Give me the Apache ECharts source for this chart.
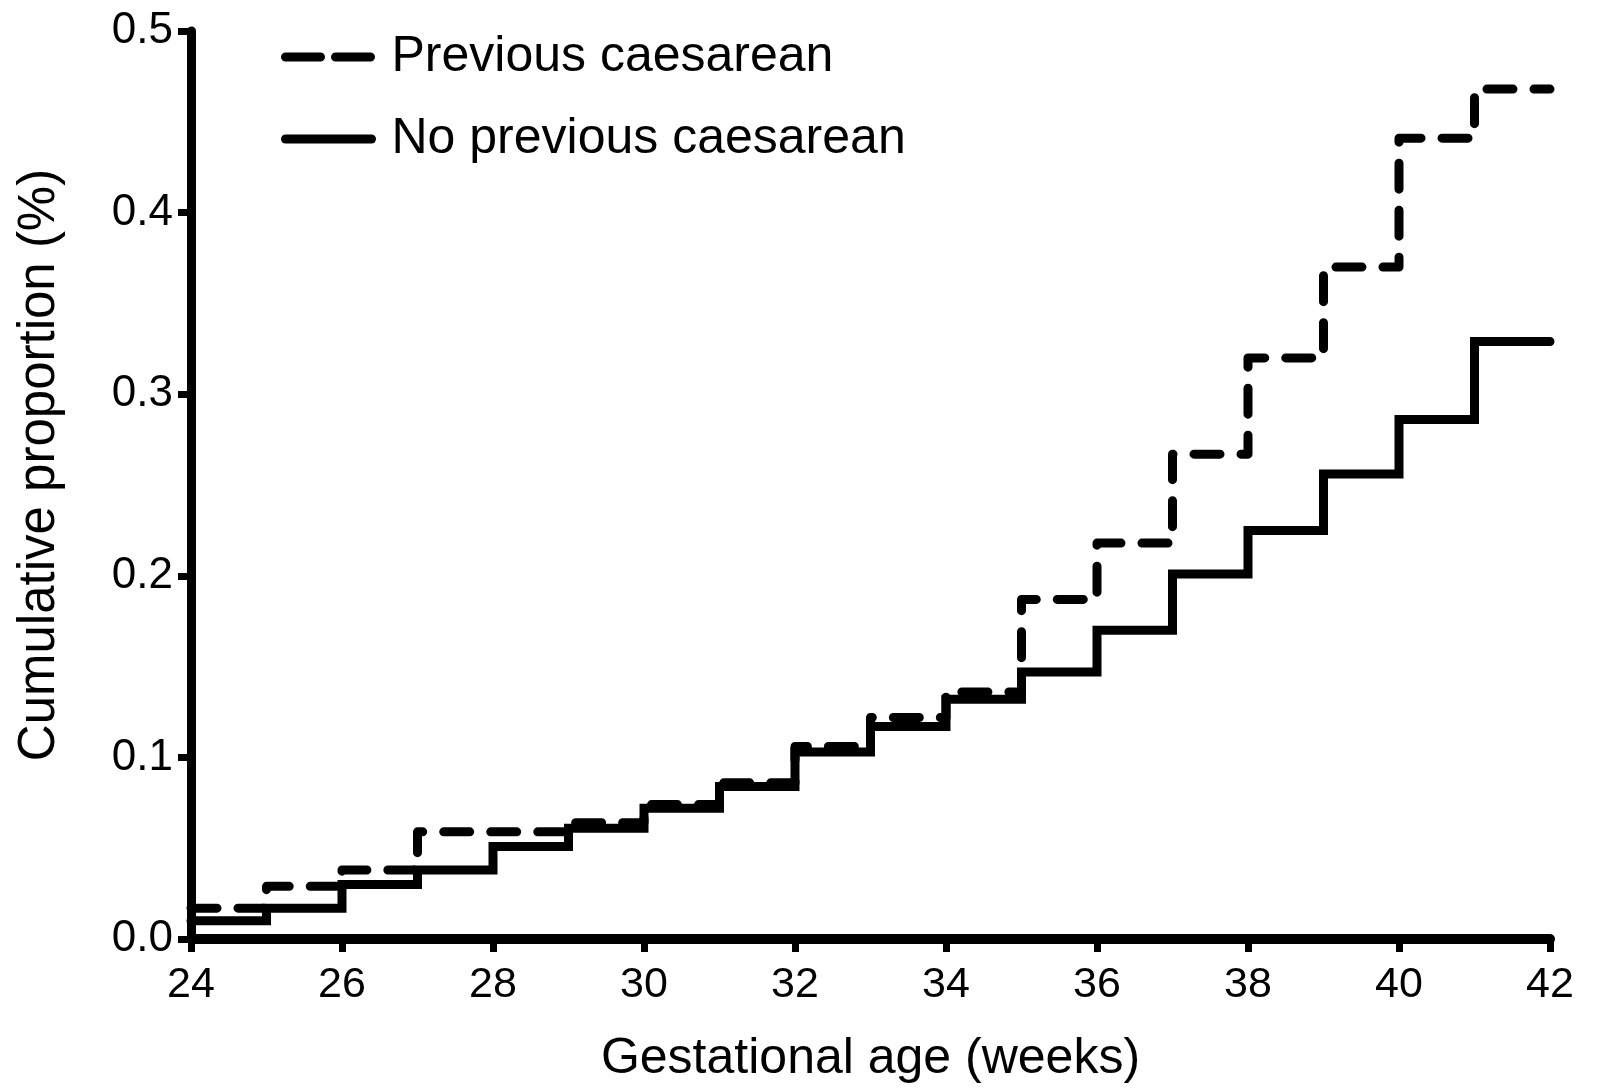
<!DOCTYPE html>
<html>
<head>
<meta charset="utf-8">
<script src="https://cdn.jsdelivr.net/npm/echarts@6/dist/echarts.min.js"></script>
<style>
  html, body { margin: 0; padding: 0; background: #fff; }
  #chart { width: 1598px; height: 1090px; }
</style>
</head>
<body>
<div id="chart"></div>
<script>
// week boundaries (each value holds from week i to week i+1)
var weeks = [24,25,26,27,28,29,30,31,32,33,34,35,36,37,38,39,40,41,42];
var prevCaesarean   = [0.017,0.029,0.038,0.059,0.059,0.064,0.074,0.086,0.106,0.122,0.136,0.187,0.218,0.267,0.320,0.370,0.441,0.468];
var noPrevCaesarean = [0.010,0.017,0.030,0.038,0.051,0.061,0.072,0.084,0.103,0.117,0.132,0.147,0.170,0.201,0.225,0.256,0.286,0.329];
var xTicks = [24, 26, 28, 30, 32, 34, 36, 38, 40, 42];

function steps(vals) {
  var out = [];
  for (var i = 0; i < vals.length; i++) out.push([weeks[i], vals[i]]);
  out.push([weeks[weeks.length - 1], vals[vals.length - 1]]);
  return out;
}

var font = 'Liberation Sans, Arial, sans-serif';
var myChart = echarts.init(document.getElementById('chart'));
myChart.setOption({
  animation: false,
  backgroundColor: '#fff',
  color: ['#000', '#000'],
  grid: { left: 191, right: 48, top: 31, bottom: 151 },
  legend: {
    orient: 'vertical',
    left: 276,
    top: 24,
    itemWidth: 86,
    itemHeight: 10,
    itemGap: 26,
    textStyle: { color: '#000', fontSize: 50, fontFamily: font, lineHeight: 56, padding: [0, 0, 0, 15] },
    data: [
      { name: 'Previous caesarean', itemStyle: { opacity: 0 }, lineStyle: { type: [35, 15], width: 9, cap: 'round', color: '#000' } },
      { name: 'No previous caesarean', itemStyle: { opacity: 0 }, lineStyle: { type: 'solid', width: 9, cap: 'round', color: '#000' } }
    ]
  },
  xAxis: {
    type: 'value',
    min: 24, max: 42, interval: 2,
    name: 'Gestational age (weeks)',
    nameLocation: 'middle',
    nameGap: 95,
    nameTextStyle: { color: '#000', fontSize: 50, fontFamily: font },
    axisLine: { lineStyle: { color: '#000', width: 10 } },
    axisTick: { length: 13, lineStyle: { color: '#000', width: 7 } },
    axisLabel: {
      color: '#000', fontSize: 43, fontFamily: font, margin: 25,
      customValues: xTicks
    },
    splitLine: { show: false }
  },
  yAxis: {
    type: 'value',
    min: 0, max: 0.5, interval: 0.1,
    name: 'Cumulative proportion (%)',
    nameLocation: 'middle',
    nameGap: 126,
    nameTextStyle: { color: '#000', fontSize: 51, fontFamily: font, padding: [0, 0, 0, 40] },
    axisLine: { show: true, lineStyle: { color: '#000', width: 9 } },
    axisTick: { show: true, length: 13, lineStyle: { color: '#000', width: 7 } },
    axisLabel: {
      color: '#000', fontSize: 44, fontFamily: font, margin: 18,
      formatter: function (v) { return v.toFixed(1); }
    },
    splitLine: { show: false }
  },
  series: [
    {
      name: 'Previous caesarean',
      type: 'line',
      step: 'end',
      symbol: 'none',
      clip: false,
      data: steps(prevCaesarean),
      itemStyle: { color: '#000' },
      lineStyle: { color: '#000', width: 9, type: [26, 21], cap: 'round', join: 'round' },
      z: 3
    },
    {
      name: 'No previous caesarean',
      type: 'line',
      step: 'end',
      symbol: 'none',
      clip: false,
      data: steps(noPrevCaesarean),
      itemStyle: { color: '#000' },
      lineStyle: { color: '#000', width: 9, type: 'solid', cap: 'round', join: 'miter' },
      z: 2
    }
  ]
});
</script>
</body>
</html>
